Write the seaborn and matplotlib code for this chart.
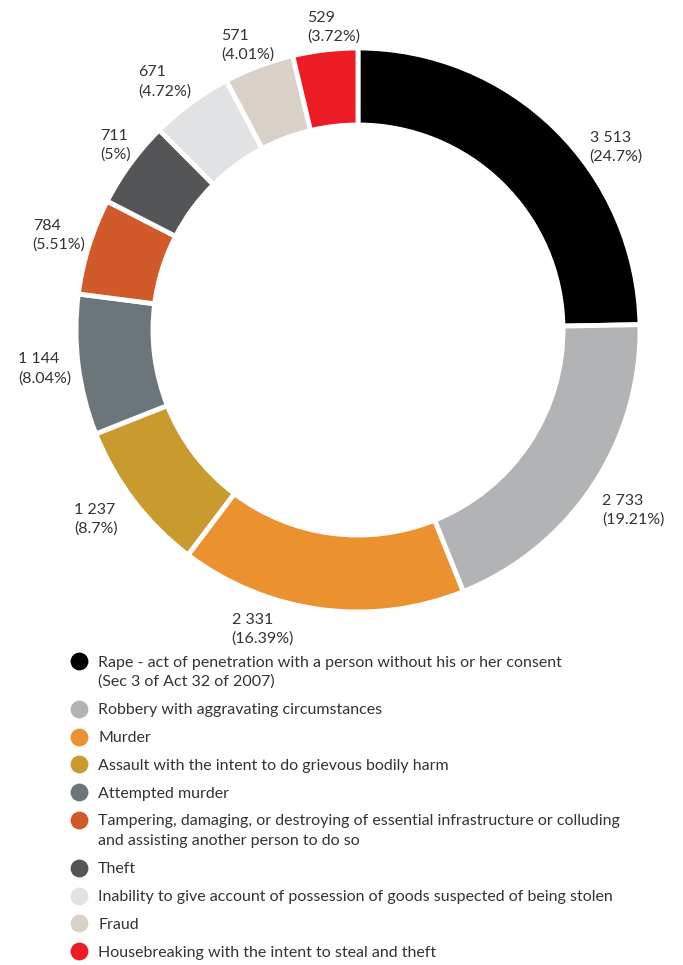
import numpy as np
import matplotlib
matplotlib.use("Agg")
import matplotlib.pyplot as plt
import seaborn as sns

# data
crimes = [
    "Rape - act of penetration with a person without his or her consent\n(Sec 3 of Act 32 of 2007)",
    "Robbery with aggravating circumstances",
    "Murder",
    "Assault with the intent to do grievous bodily harm",
    "Attempted murder",
    "Tampering, damaging, or destroying of essential infrastructure or colluding\nand assisting another person to do so",
    "Theft",
    "Inability to give account of possession of goods suspected of being stolen",
    "Fraud",
    "Housebreaking with the intent to steal and theft",
]
counts = [3513, 2733, 2331, 1237, 1144, 784, 711, 671, 571, 529]
pct_labels = ["24.7%", "19.21%", "16.39%", "8.7%", "8.04%", "5.51%", "5%", "4.72%", "4.01%", "3.72%"]
colors = ["#000000", "#b1b3b5", "#ec9130", "#c99b2f", "#6b767b",
          "#d05a2a", "#545557", "#e1e2e4", "#d9d0c7", "#ec1c24"]

# hand placement tweaks for the value labels (pixels, +x right, +y down)
label_nudge = [(39, 41), (14, 8), (-54, -11), (-13, 0), (-3, 0),
               (0, -2), (10, 0), (-8, 4), (0, 8), (12, 8)]

sns.set_theme(style="white")
plt.rcParams["font.family"] = ["Lato", "DejaVu Sans"]
pal = sns.color_palette(colors)

W, H = 683, 965
FS = 11.5
TXT = "#333333"
fig = plt.figure(figsize=(W / 100, H / 100), dpi=100)

# donut centre (358, 330) px, outer radius 282 px
cx, cy, r = 358, 330, 282
ax = fig.add_axes([(cx - r) / W, (H - cy - r) / H, 2 * r / W, 2 * r / H])

labels = [f"{c:,}".replace(",", " ") + f"\n({p})" for c, p in zip(counts, pct_labels)]
wedges, texts = ax.pie(counts, colors=pal, startangle=90, counterclock=False,
                       radius=1, labels=labels, labeldistance=1.11,
                       wedgeprops=dict(width=0.273, edgecolor="white", linewidth=3.5),
                       textprops=dict(fontsize=FS, color=TXT))
for t, (dx, dy) in zip(texts, label_nudge):
    x, y = t.get_position()
    t.set_position((x + dx / r, y - dy / r))
    t.set_ha("center")
    t.set_multialignment("left")
    t.set_linespacing(1.4)
ax.set_xlim(-1, 1)
ax.set_ylim(-1, 1)
ax.set_aspect("equal")
ax.axis("off")

# legend drawn by hand in pixel coordinates
lax = fig.add_axes([0, 0, 1, 1], zorder=-1)
lax.set_xlim(0, W)
lax.set_ylim(H, 0)
lax.axis("off")
y = 661
for name, c in zip(crimes, pal):
    lax.scatter([79], [y], s=165, color=c, linewidths=0)
    lines = name.split("\n")
    for i, line in enumerate(lines):
        lax.text(98, y + 5.5 + i * 19.5, line, fontsize=FS, color=TXT,
                 va="baseline", ha="left")
    y += 27.8 + 20 * (len(lines) - 1)

fig.savefig("out.png", dpi=100)
